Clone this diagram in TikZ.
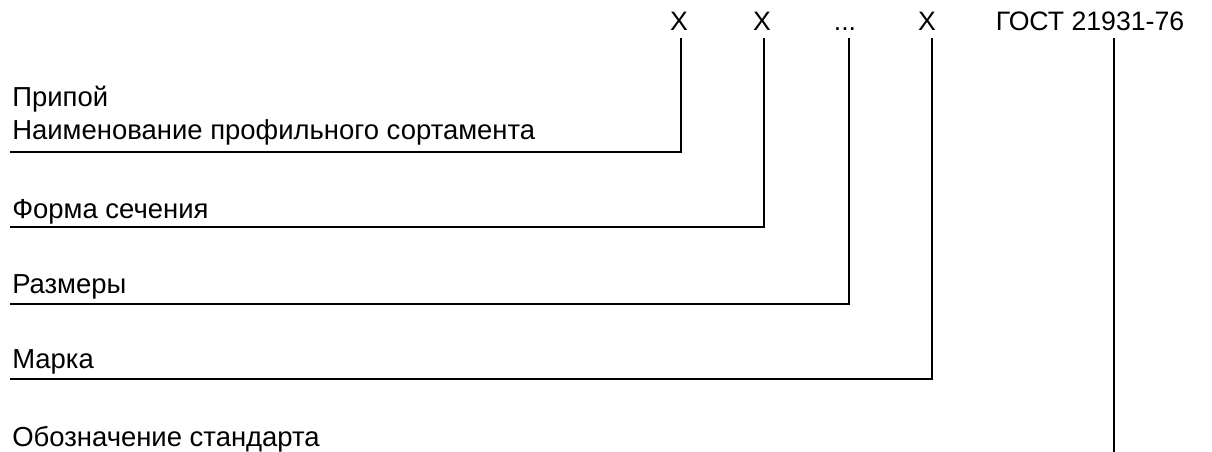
\documentclass[tikz,border=0pt]{standalone}
\usepackage{fontspec}
\setmainfont{Liberation Sans}

\begin{document}
\begin{tikzpicture}[x=0.75pt, y=-0.75pt,
    lbl/.style={anchor=base west, inner sep=0pt, font=\fontsize{20.6}{24}\selectfont},
    sym/.style={anchor=base, inner sep=0pt, font=\fontsize{20}{24}\selectfont},
    lead/.style={line width=1.4pt}]
    \useasboundingbox (0, 0) rectangle (1212, 451);
    % designation symbols at the top
    \node[sym] (x1) at (679, 30) {X};
    \node[sym] (x2) at (762, 30) {X};
    \node[sym] (dots) at (845, 30) {...};
    \node[sym] (x3) at (927, 30) {X};
    \node[sym] (gost) at (1090, 30) {ГОСТ 21931-76};
    \coordinate (top) at (0, 38);
    % explanations on the left
    \node[lbl] (solder) at (12, 106) {Припой};
    \node[lbl] (profile) at (12, 139) {Наименование профильного сортамента};
    \node[lbl] (form) at (12, 218) {Форма сечения};
    \node[lbl] (size) at (12, 293) {Размеры};
    \node[lbl] (grade) at (12, 368) {Марка};
    \node[lbl] (std) at (12, 446) {Обозначение стандарта};
    \coordinate (s1) at (10, 152);
    \coordinate (s2) at (10, 227);
    \coordinate (s3) at (10, 304);
    \coordinate (s4) at (10, 379);
    \coordinate (s5) at (1114, 455);
    % leaders
    \draw[lead] (681, 38) |- (s1);
    \draw[lead] (764, 38) |- (s2);
    \draw[lead] (849, 38) |- (s3);
    \draw[lead] (932, 38) |- (s4);
    \draw[lead] (s5 |- top) -- (s5);
\end{tikzpicture}
\end{document}
